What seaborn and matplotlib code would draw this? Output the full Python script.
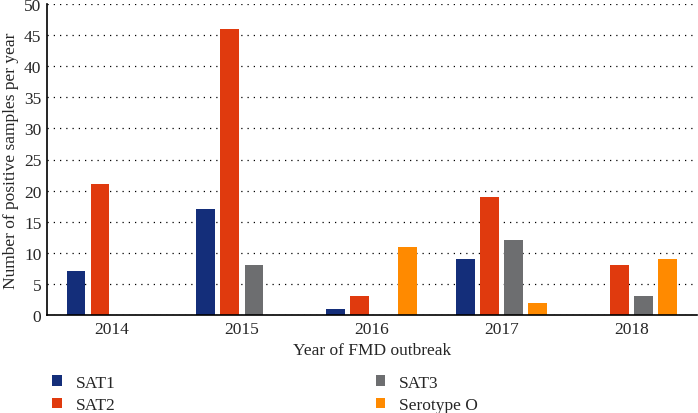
import numpy as np
import pandas as pd
import matplotlib
matplotlib.use('Agg')
import matplotlib.pyplot as plt
import seaborn as sns

# chart data
years = ['2014', '2015', '2016', '2017', '2018']
sat1 = [7, 17, 1, 9, 0]
sat2 = [21, 46, 3, 19, 8]
sat3 = [0, 8, 0, 12, 3]
serotype_o = [0, 0, 11, 2, 9]
series_names = ['SAT1', 'SAT2', 'SAT3', 'Serotype O']
colors = ['#142e7a', '#e03a0e', '#6d6e70', '#ff8a00']

# long-form table for seaborn
df = pd.DataFrame({'Year': years * 4,
                   'Serotype': np.repeat(series_names, len(years)),
                   'Count': sat1 + sat2 + sat3 + serotype_o})

sns.set_style('white')
plt.rcParams['font.family'] = ['Liberation Serif', 'DejaVu Serif']

fig, ax = plt.subplots(figsize=(6.98, 4.14), dpi=100)
fig.subplots_adjust(left=47 / 698, right=0.998, top=1 - 5 / 414, bottom=1 - 316 / 414)

sns.barplot(data=df, x='Year', y='Count', hue='Serotype',
            palette=colors, saturation=1, width=0.74, gap=0.22, linewidth=0,
            ax=ax)

# axes styling
ax.set_ylim(0, 50)
ax.set_xlim(-0.5, 4.5)
ax.set_yticks(range(0, 51, 5))
ax.yaxis.grid(True, linestyle=(0, (1, 4)), color='black', linewidth=0.9)
ax.set_axisbelow(True)
for side in ['top', 'right']:
    ax.spines[side].set_visible(False)
for side in ['left', 'bottom']:
    ax.spines[side].set_color('black')
    ax.spines[side].set_linewidth(1.2)
ax.tick_params(axis='both', labelsize=12.5, length=0, pad=4)

ax.set_xlabel('Year of FMD outbreak', fontsize=12.5, labelpad=4)
ax.set_ylabel('Number of positive samples per year', fontsize=12.5, labelpad=4)

# legend below the plot
ax.legend(loc='upper left', bbox_to_anchor=(-0.003, -0.17), ncol=2,
          frameon=False, fontsize=12.5, handlelength=0.55, handleheight=0.55,
          columnspacing=15.0, labelspacing=0.36, handletextpad=0.8,
          borderaxespad=0)

plt.savefig('out.png')
